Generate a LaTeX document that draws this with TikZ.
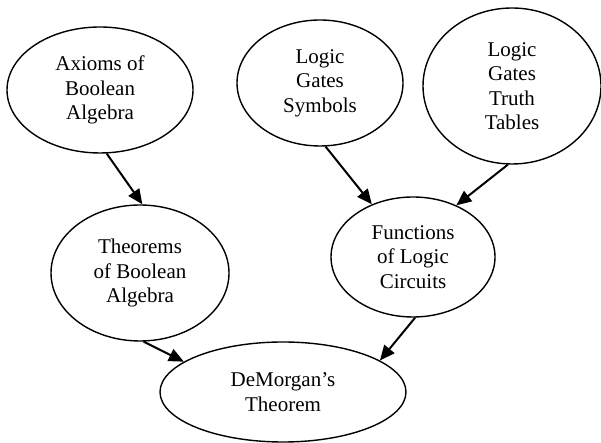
\documentclass[tikz,border=0pt]{standalone}
\usepackage{fontspec}
\setmainfont{Liberation Serif}
\usetikzlibrary{shapes.geometric,arrows.meta}

\begin{document}
\begin{tikzpicture}[x=1pt,y=1pt,
  topic/.style={ellipse, draw, line width=1.4pt, fill=white, inner sep=0pt,
    align=center, font=\fontsize{21}{24.5}\selectfont},
  link/.style={line width=2pt, -{Triangle[length=15pt,width=13pt]}}]
  \useasboundingbox (0,0) rectangle (601,443);

  % concept bubbles (centre y = 443 - image row)
  \node[topic, minimum width=186pt, minimum height=126pt] (axioms)   at (100,353) {Axioms of\\Boolean\\Algebra};
  \node[topic, minimum width=166pt, minimum height=126pt] (symbols)  at (320,360) {Logic\\Gates\\Symbols};
  \node[topic, minimum width=178pt, minimum height=156pt] (truth)    at (512,357) {Logic\\Gates\\Truth\\Tables};
  \node[topic, minimum width=178pt, minimum height=136pt] (theorems) at (140,170) {Theorems\\of Boolean\\Algebra};
  \node[topic, minimum width=164pt, minimum height=120pt] (functions) at (413,186) {Functions\\of Logic\\Circuits};
  \node[topic, minimum width=246pt, minimum height=100pt] (demorgan) at (283,51) {DeMorgan’s\\Theorem};

  % prerequisite links
  \draw[link] (axioms.-84)   -- (theorems.88);
  \draw[link] (symbols.-85)  -- (functions.128);
  \draw[link] (truth.-93.5)  -- (functions.50);
  \draw[link] (theorems.-87.5) -- (demorgan.163);
  \draw[link] (functions.-88) -- (demorgan.18.6);
\end{tikzpicture}
\end{document}
